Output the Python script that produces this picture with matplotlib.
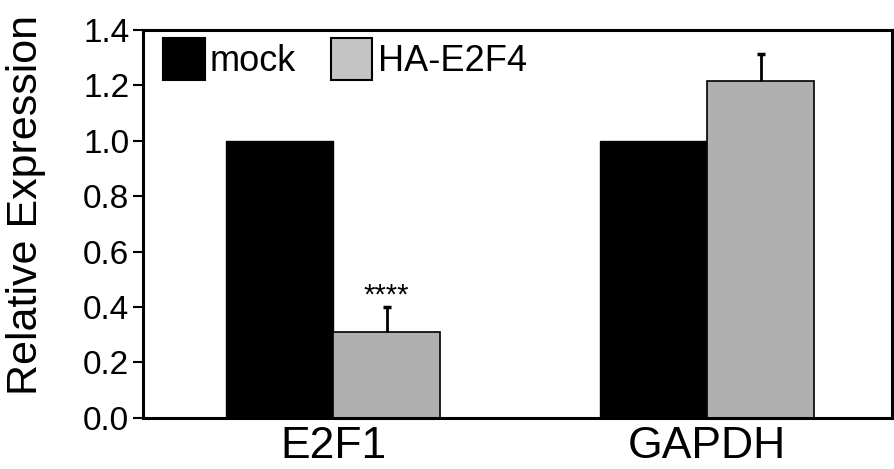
import numpy as np
import matplotlib
matplotlib.use("Agg")
import matplotlib.pyplot as plt
from matplotlib.patches import Patch

plt.rcParams['font.family'] = ['Liberation Sans', 'DejaVu Sans']

genes = ["E2F1", "GAPDH"]
mock_vals = [1.0, 1.0]
e2f4_vals = [0.31, 1.215]
e2f4_err = [0.09, 0.10]
stars = ["****", ""]

fig = plt.figure(figsize=(8.95, 4.69), dpi=100)
ax = fig.add_axes([0.16, 0.109, 0.837, 0.827])

x = np.arange(len(genes))
w = 0.286
ax.bar(x - w / 2, mock_vals, w, color="black", edgecolor="black", linewidth=1)
ax.bar(x + w / 2, e2f4_vals, w, color="#b0b0b0", edgecolor="black", linewidth=1.2)

# upper error only, with a small cap on top
tops = np.array(e2f4_vals) + np.array(e2f4_err)
ax.vlines(x + w / 2, e2f4_vals, tops, color="black", linewidth=2)
ax.plot(x + w / 2, tops, linestyle="none", marker="_", markersize=6, markeredgewidth=2.5, color="black")

for xi, t, s in zip(x, tops, stars):
    if s:
        ax.text(xi + w / 2, t + 0.04, s, ha="center", va="center", fontsize=21)

ax.set_xlim(-0.508, 1.495)
ax.set_ylim(0, 1.4)
ax.set_yticks(np.arange(0, 1.41, 0.2))
ax.set_yticklabels(["%.1f" % t for t in np.arange(0, 1.41, 0.2)])
ax.set_xticks(x)
ax.set_xticklabels(genes)
ax.tick_params(axis="y", labelsize=24, length=7, width=1.5, pad=3)
ax.tick_params(axis="x", labelsize=32, length=0, pad=6)
ax.set_ylabel("Relative Expression", fontsize=31)
ax.yaxis.set_label_coords(-0.13, 0.55)
for sp in ax.spines.values():
    sp.set_linewidth(2.2)

handles = [Patch(facecolor="black", edgecolor="black", linewidth=1.5, label="mock"),
           Patch(facecolor="#c4c4c4", edgecolor="black", linewidth=1.5, label="HA-E2F4")]
ax.legend(handles=handles, loc="upper left", bbox_to_anchor=(0.026, 0.98), ncol=2, frameon=False,
          fontsize=26, borderaxespad=0, borderpad=0, handlelength=1.16, handleheight=1.41,
          handletextpad=0.15, columnspacing=0.95)

fig.savefig("out.png", dpi=100)
